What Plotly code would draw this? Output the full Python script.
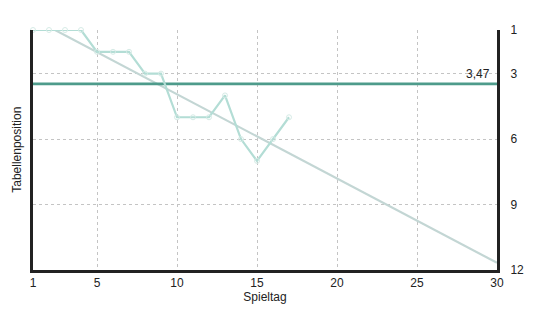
import plotly.graph_objects as go

spieltage = list(range(1, 18))
positionen = [1, 1, 1, 1, 2, 2, 2, 3, 3, 5, 5, 5, 4, 6, 7, 6, 5]
trend_x = [1, 30]
trend_y = [0.47, 11.67]
mittelwert = 3.47
mittelwert_label = "3,47"
x_ticks = [1, 5, 10, 15, 20, 25, 30]
y_ticks = [1, 3, 6, 9, 12]

fig = go.Figure()
fig.add_trace(go.Scatter(
    x=trend_x, y=trend_y, mode="lines",
    line=dict(color="#c3d6d4", width=2.2), hoverinfo="skip", showlegend=False))
fig.add_trace(go.Scatter(
    x=[1, 30], y=[mittelwert, mittelwert], mode="lines",
    line=dict(color="#4e9b8b", width=2.8), hoverinfo="skip", showlegend=False))
fig.add_trace(go.Scatter(
    x=spieltage, y=positionen, mode="lines+markers",
    line=dict(color="#b3ddd5", width=2.2),
    marker=dict(size=5, symbol="circle-open", color="#d6ebe6", line=dict(width=1)),
    showlegend=False, cliponaxis=False))

fig.add_annotation(x=30, y=mittelwert, xref="x", yref="y", text=mittelwert_label,
                   showarrow=False, xanchor="right", yanchor="bottom", xshift=-5, yshift=1,
                   font=dict(size=12, color="#222"))
fig.add_annotation(x=-0.035, y=0.5, xref="paper", yref="paper", text="Tabellenposition",
                   showarrow=False, textangle=-90, xanchor="center", yanchor="middle",
                   font=dict(size=12, color="#222"))

fig.update_layout(
    width=535, height=311,
    margin=dict(l=33, r=38, t=30, b=41, autoexpand=False),
    paper_bgcolor="white", plot_bgcolor="white",
    font=dict(family="Liberation Sans, Arial, sans-serif", size=12, color="#222"),
    xaxis=dict(range=[1, 30], tickvals=x_ticks, showgrid=True, gridcolor="#c4c4c4",
               griddash="3px,3px", gridwidth=1, showline=True, linecolor="#222", linewidth=3,
               zeroline=False, ticks="", automargin=False, ticklabelstandoff=0,
               title=dict(text="Spieltag", standoff=2, font=dict(size=12))),
    yaxis=dict(range=[12, 1], tickvals=y_ticks, side="right", showgrid=True,
               gridcolor="#c4c4c4", griddash="3px,3px", gridwidth=1, showline=True,
               mirror=True, linecolor="#222", linewidth=3, zeroline=False, ticks="",
               automargin=False, ticklabelstandoff=8),
)
fig.write_html("out.html")
